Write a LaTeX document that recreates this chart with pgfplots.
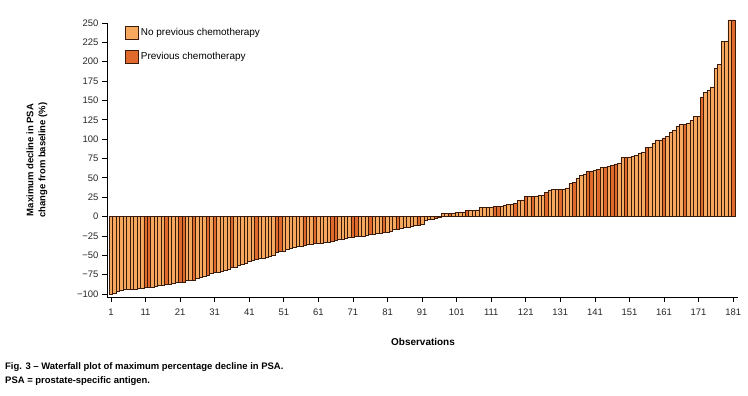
\documentclass[border=0pt]{standalone}
\usepackage{fontspec}
\setmainfont{Liberation Sans}
\usepackage{pgfplots}
\pgfplotsset{compat=1.18}
\usepackage{pgfplotstable}
\definecolor{lightbar}{HTML}{F5A85E}
\definecolor{darkbar}{HTML}{E06A2C}
\definecolor{edge}{HTML}{3A1B0A}
\pgfplotstableread{
x y d
1 -100 0
2 -99 0
3 -97 0
4 -95 0
5 -94.5 0
6 -93.5 0
7 -93.5 0
8 -93.5 0
9 -93 0
10 -93 0
11 -91 1
12 -91 1
13 -91 0
14 -90.5 0
15 -88.5 0
16 -88.5 0
17 -88 1
18 -87 0
19 -86.5 0
20 -85 0
21 -85 1
22 -84.5 1
23 -82.5 0
24 -82 0
25 -82 1
26 -79.5 0
27 -79 0
28 -77 0
29 -75.5 1
30 -74 0
31 -72.5 1
32 -71.5 0
33 -71 0
34 -69 0
35 -68 0
36 -66 1
37 -65 0
38 -63 0
39 -62 0
40 -60 0
41 -58 0
42 -56.5 0
43 -55 1
44 -54 0
45 -53.5 0
46 -53 0
47 -51.5 0
48 -50 0
49 -46 1
50 -45 1
51 -44.5 0
52 -42 0
53 -41 0
54 -40 0
55 -39 0
56 -38 0
57 -37 1
58 -36 0
59 -35.5 0
60 -35 1
61 -34.5 0
62 -34 0
63 -33.5 0
64 -33 0
65 -32.5 1
66 -31 1
67 -30 0
68 -29 0
69 -28.5 0
70 -27.5 0
71 -27 1
72 -26 1
73 -25.5 0
74 -25 0
75 -24 0
76 -23.5 1
77 -23 0
78 -22 0
79 -21.5 0
80 -21 1
81 -20 0
82 -18.5 0
83 -17 0
84 -16.5 1
85 -15 0
86 -14.5 0
87 -13.5 0
88 -12.5 0
89 -11.5 0
90 -11 1
91 -10 0
92 -5 0
93 -4 0
94 -3 0
95 -2 1
96 -1.5 0
97 4 0
98 4 0
99 4 1
100 4 0
101 5.5 0
102 5.5 0
103 6 0
104 8 1
105 8 0
106 8 0
107 8.5 0
108 11.5 0
109 11.5 0
110 12 0
111 12 0
112 13 1
113 13.5 1
114 13.5 0
115 14 0
116 16 0
117 16 0
118 17 1
119 20.5 0
120 21.5 0
121 26 1
122 26 0
123 26 1
124 26.5 0
125 27 0
126 27 0
127 31 1
128 34 0
129 35 0
130 35 0
131 35 1
132 35.5 0
133 37 0
134 43 0
135 44 1
136 49 0
137 53 0
138 55 0
139 58 1
140 59 1
141 60 0
142 61 1
143 63.5 0
144 64 1
145 65 0
146 66 1
147 68 1
148 69 0
149 76 0
150 76.5 1
151 77 0
152 78 0
153 79 0
154 82 0
155 83.5 0
156 89 1
157 90 0
158 95 0
159 99 0
160 99 0
161 101.5 1
162 103 0
163 109 0
164 112 0
165 116 0
166 118.5 0
167 118.5 1
168 120 0
169 124 0
170 129 0
171 129.5 0
172 154.5 1
173 160 0
174 163.5 0
175 167.5 0
176 192 0
177 197 0
178 226 0
179 226 0
180 254 0
181 254 1
}\psatable

\pgfplotsset{sqlegend/.style={legend image code/.code={\draw[##1, line width=0.6bp] (0bp,-6.5bp) rectangle (13bp,6.5bp);}}}

\begin{document}
\begin{tikzpicture}
\begin{axis}[
  at={(107bp,99bp)}, anchor=south west,
  scale only axis, width=631bp, height=274bp,
  xmin=-0.16, xmax=182.4, ymin=-104, ymax=250,
  axis x line=bottom, axis y line=left,
  axis line style={-, line width=0.7bp, black},
  tick style={line width=0.7bp, black},
  tick align=outside, major tick length=5bp,
  xtick={1,11,...,181},
  ytick={-100,-75,...,250},
  yticklabels={−100,−75,−50,−25,0,25,50,75,100,125,150,175,200,225,250},
  /pgf/number format/assume math mode=true,
  ticklabel style={font=\fontsize{9.5}{11}\selectfont, text=black!85},
  xticklabel style={yshift=-3bp},
  ybar, bar width=1, bar shift=0pt,
  legend style={at={(axis description cs:0.024,0.997)}, anchor=north west,
    draw=none, fill=none, font=\fontsize{10}{12}\selectfont, row sep=10bp,
    /tikz/every even column/.append style={column sep=4bp}},
  legend cell align=left,
  clip=false,
]
\addplot[fill=lightbar, draw=edge, line width=0.6bp, sqlegend,
  restrict expr to domain={\thisrow{d}}{0:0}] table[x=x, y=y] {\psatable};
\addlegendentry{No previous chemotherapy}
\addplot[fill=darkbar, draw=edge, line width=0.6bp, sqlegend,
  restrict expr to domain={\thisrow{d}}{1:1}] table[x=x, y=y] {\psatable};
\addlegendentry{Previous chemotherapy}
\end{axis}
\node[rotate=90, align=center, font=\fontsize{9.5}{12}\selectfont\bfseries] at (37bp,236bp) {Maximum decline in PSA\\change from baseline (\%)};
\node[font=\fontsize{10}{12}\selectfont\bfseries] at (423bp,54bp) {Observations};
\node[anchor=west, inner sep=0pt, font=\fontsize{9.5}{11}\selectfont\bfseries] at (5bp,29bp) {Fig. 3 – Waterfall plot of maximum percentage decline in PSA.};
\node[anchor=west, inner sep=0pt, font=\fontsize{9.5}{11}\selectfont\bfseries] at (5bp,15bp) {PSA = prostate-specific antigen.};
\pgfresetboundingbox
\path[use as bounding box] (0bp,0bp) rectangle (748bp,396bp);
\end{tikzpicture}
\end{document}
